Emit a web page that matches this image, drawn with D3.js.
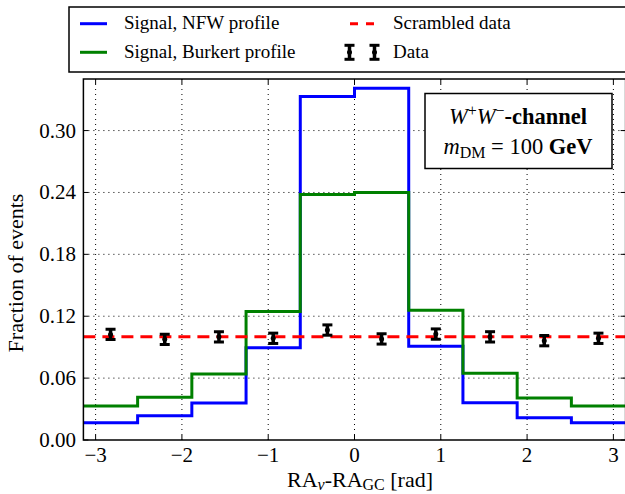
<!DOCTYPE html>
<html><head><meta charset="utf-8">
<script src="https://cdn.jsdelivr.net/npm/d3@7"></script>
<style>body{margin:0;background:#fff}svg{display:block}</style>
</head><body><svg id="c" width="625" height="494" font-family="Liberation Serif"></svg>
<script>
const binEdges=[-3.1416,-2.5133,-1.8850,-1.2566,-0.6283,0,0.6283,1.2566,1.8850,2.5133,3.1416];
const nfw=[0.0168,0.0236,0.0359,0.0895,0.333,0.341,0.0908,0.0362,0.0216,0.0168];
const burkert=[0.033,0.0414,0.064,0.1247,0.238,0.240,0.1257,0.0646,0.0407,0.033];
const scrambled=0.100;
const dataX=[-2.827,-2.199,-1.571,-0.942,-0.314,0.314,0.942,1.571,2.199,2.827];
const dataY=[0.1024,0.0976,0.100,0.0986,0.1066,0.098,0.1027,0.100,0.0963,0.0986];
const dataErr=[0.005,0.005,0.005,0.005,0.005,0.005,0.005,0.005,0.005,0.005];
const xTicks=[-3,-2,-1,0,1,2,3];
const yTicks=[0,0.06,0.12,0.18,0.24,0.30];

const FF="Liberation Serif";
const svg=d3.select("#c");
const L=83.4,R=625.6,T=79,B=440;
const x=d3.scaleLinear().domain([-Math.PI,Math.PI]).range([L,R]);
const y=d3.scaleLinear().domain([0,0.35]).range([B,T]);

svg.append("clipPath").attr("id","cp").append("rect").attr("x",L).attr("y",T).attr("width",R-L).attr("height",B-T);
const g=svg.append("g");
g.selectAll(".gx").data(xTicks).join("line").attr("x1",d=>x(d)).attr("x2",d=>x(d)).attr("y1",T).attr("y2",B)
 .attr("stroke","#000").attr("stroke-width",1).attr("stroke-dasharray","1,4");
g.selectAll(".gy").data(yTicks.filter(d=>d>0)).join("line").attr("y1",d=>y(d)).attr("y2",d=>y(d)).attr("x1",L).attr("x2",R)
 .attr("stroke","#000").attr("stroke-width",1).attr("stroke-dasharray","1,4");

const plot=svg.append("g").attr("clip-path","url(#cp)");
const step=d3.line().x(d=>x(d[0])).y(d=>y(d[1])).curve(d3.curveStepAfter);
function pts(vals){const p=vals.map((v,i)=>[binEdges[i],v]);p.push([binEdges[binEdges.length-1],vals[vals.length-1]]);return p;}
plot.append("path").attr("d",step(pts(nfw))).attr("fill","none").attr("stroke","#0000ff").attr("stroke-width",3);
plot.append("path").attr("d",step(pts(burkert))).attr("fill","none").attr("stroke","#008000").attr("stroke-width",3);
plot.append("line").attr("x1",L).attr("x2",R).attr("y1",y(scrambled)).attr("y2",y(scrambled))
 .attr("stroke","#ff0000").attr("stroke-width",3).attr("stroke-dasharray","12,7");

function errbar(sel,cx,cy,hy){
  sel.append("line").attr("x1",cx).attr("x2",cx).attr("y1",cy-hy).attr("y2",cy+hy).attr("stroke","#000").attr("stroke-width",3.5);
  sel.append("line").attr("x1",cx-5).attr("x2",cx+5).attr("y1",cy-hy).attr("y2",cy-hy).attr("stroke","#000").attr("stroke-width",3);
  sel.append("line").attr("x1",cx-5).attr("x2",cx+5).attr("y1",cy+hy).attr("y2",cy+hy).attr("stroke","#000").attr("stroke-width",3);
  sel.append("circle").attr("cx",cx).attr("cy",cy).attr("r",2.5).attr("fill","#000");
}
const eg=plot.append("g");
dataX.forEach((d,i)=>{const gg=eg.append("g");errbar(gg,x(d),y(dataY[i]),y(dataY[i]-dataErr[i])-y(dataY[i]));});

svg.append("rect").attr("x",L).attr("y",T).attr("width",R-L).attr("height",B-T).attr("fill","none").attr("stroke","#000").attr("stroke-width",1.5);
xTicks.forEach(d=>{
  svg.append("line").attr("x1",x(d)).attr("x2",x(d)).attr("y1",B).attr("y2",B-5).attr("stroke","#000");
  svg.append("line").attr("x1",x(d)).attr("x2",x(d)).attr("y1",T).attr("y2",T+5).attr("stroke","#000");
});
yTicks.forEach(d=>{
  svg.append("line").attr("x1",L).attr("x2",L+5).attr("y1",y(d)).attr("y2",y(d)).attr("stroke","#000");
  svg.append("line").attr("x1",R).attr("x2",R-5).attr("y1",y(d)).attr("y2",y(d)).attr("stroke","#000");
});
svg.selectAll(".xl").data(xTicks).join("text").attr("font-family",FF).attr("x",d=>x(d)).attr("y",462).attr("text-anchor","middle").attr("font-size",21)
 .text(d=>d<0?"\u2212"+Math.abs(d):d);
svg.selectAll(".yl").data(yTicks).join("text").attr("font-family",FF).attr("x",76).attr("y",d=>y(d)+7).attr("text-anchor","end").attr("font-size",21)
 .text(d=>d.toFixed(2));
const xl=svg.append("text").attr("font-family",FF).attr("x",360).attr("y",486.5).attr("text-anchor","middle").attr("font-size",22);
xl.append("tspan").text("RA");
xl.append("tspan").attr("font-size",16).attr("font-style","italic").attr("dy",3).text("\u03bd");
xl.append("tspan").attr("dy",-3).text("-RA");
xl.append("tspan").attr("font-size",16).attr("dy",3).text("GC");
xl.append("tspan").attr("dy",-3).text(" [rad]");
svg.append("text").attr("font-family",FF).attr("transform","translate(23,273) rotate(-90)").attr("text-anchor","middle").attr("font-size",22).text("Fraction of events");

svg.append("rect").attr("x",425).attr("y",93.5).attr("width",187).attr("height",75).attr("fill","#fff").attr("stroke","#000").attr("stroke-width",1.5);
const a1=svg.append("text").attr("font-family",FF).attr("x",518).attr("y",124).attr("text-anchor","middle").attr("font-size",22.5);
a1.append("tspan").attr("font-style","italic").text("W");
a1.append("tspan").attr("font-size",16).attr("dy",-8).text("+");
a1.append("tspan").attr("font-style","italic").attr("dy",8).text("W");
a1.append("tspan").attr("font-size",16).attr("dy",-8).text("\u2212");
a1.append("tspan").attr("dy",8).attr("font-weight","bold").text("-channel");
const a2=svg.append("text").attr("font-family",FF).attr("x",518).attr("y",154).attr("text-anchor","middle").attr("font-size",22.5);
a2.append("tspan").attr("font-style","italic").text("m");
a2.append("tspan").attr("font-size",16).attr("dy",4).text("DM");
a2.append("tspan").attr("dy",-4).text(" = 100 ");
a2.append("tspan").attr("font-weight","bold").text("GeV");

svg.append("rect").attr("x",69).attr("y",7).attr("width",570).attr("height",65).attr("fill","#fff").attr("stroke","#000").attr("stroke-width",1.5);
const leg=[{t:"Signal, NFW profile",c:"#0000ff",x:80,y:23.7},{t:"Signal, Burkert profile",c:"#008000",x:80,y:52.3}];
leg.forEach(d=>{
  svg.append("line").attr("x1",d.x).attr("x2",d.x+27).attr("y1",d.y).attr("y2",d.y).attr("stroke",d.c).attr("stroke-width",3);
  svg.append("text").attr("font-family",FF).attr("x",124).attr("y",d.y+5.5).attr("font-size",19).text(d.t);
});
svg.append("line").attr("x1",350).attr("x2",376).attr("y1",23.7).attr("y2",23.7).attr("stroke","#ff0000").attr("stroke-width",3).attr("stroke-dasharray","8,8");
svg.append("text").attr("font-family",FF).attr("x",393).attr("y",29.2).attr("font-size",19).text("Scrambled data");
const lg=svg.append("g");errbar(lg,349.5,52.3,7);errbar(lg,374.5,52.3,7);
svg.append("text").attr("font-family",FF).attr("x",393).attr("y",57.8).attr("font-size",19).text("Data");
</script></body></html>
